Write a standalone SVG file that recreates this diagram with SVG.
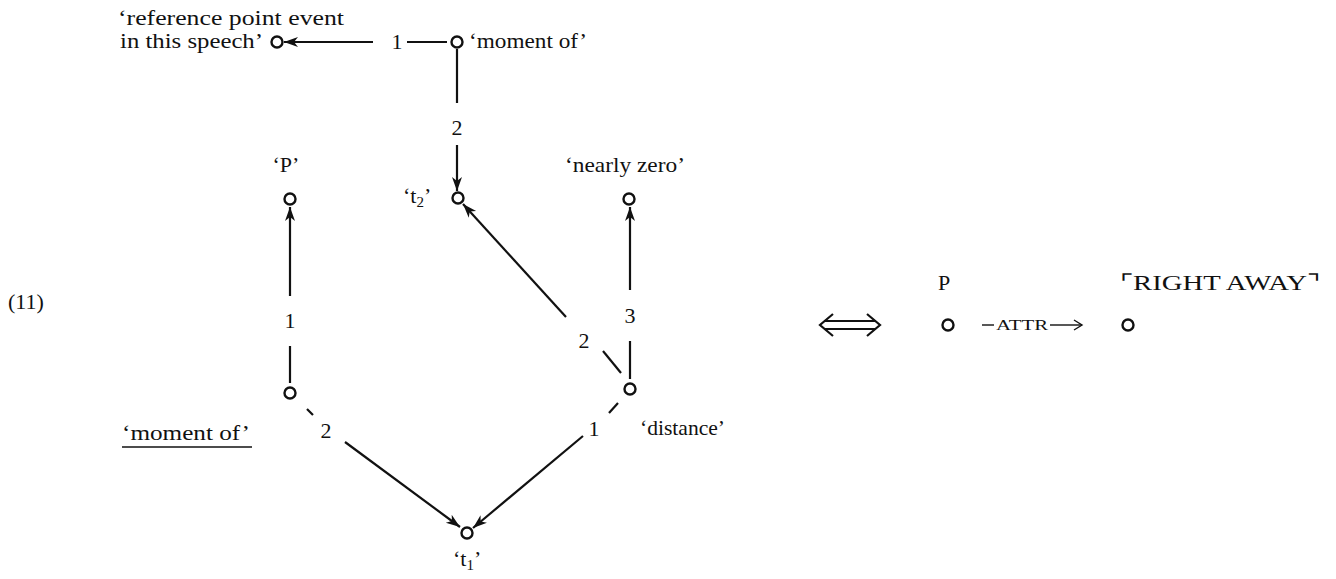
<svg xmlns="http://www.w3.org/2000/svg" width="1336" height="579" viewBox="0 0 1336 579">
<style>
text{font-family:"Liberation Serif","DejaVu Serif",serif;font-size:22px;fill:#111}
.c{text-anchor:middle}
.n{fill:#fff;stroke:#111;stroke-width:2.4}
.e{fill:none;stroke:#111;stroke-width:2.2}
.t{stroke:#111;stroke-width:1.4;fill:none}
.sc{font-size:14px}
.tl{font-size:20px}
</style>
<defs>
<marker id="ah" markerUnits="userSpaceOnUse" markerWidth="16" markerHeight="12" refX="14" refY="6" orient="auto">
<path d="M0,1 L14,6 L0,11 L4,6 Z" fill="#111"/>
</marker>
</defs>
<rect width="1336" height="579" fill="#fff"/>
<g id="connectors">
<line class="e" x1="373" y1="42" x2="284" y2="42" marker-end="url(#ah)"/>
<line class="e" x1="407" y1="42" x2="447" y2="42"/>
<line class="e" x1="457" y1="49" x2="457" y2="103"/>
<line class="e" x1="457" y1="145" x2="457" y2="191" marker-end="url(#ah)"/>
<line class="e" x1="290" y1="296" x2="290" y2="207" marker-end="url(#ah)"/>
<line class="e" x1="290" y1="346" x2="290" y2="383"/>
<line class="e" x1="630" y1="290" x2="630" y2="207" marker-end="url(#ah)"/>
<line class="e" x1="630" y1="341" x2="630" y2="379"/>
<line class="e" x1="566" y1="317" x2="463" y2="204" marker-end="url(#ah)"/>
<line class="e" x1="603" y1="351" x2="621" y2="373"/>
<line class="e" x1="307" y1="409" x2="313" y2="415"/>
<line class="e" x1="345" y1="442" x2="460" y2="527" marker-end="url(#ah)"/>
<line class="e" x1="618" y1="403" x2="609" y2="413"/>
<line class="e" x1="583" y1="436" x2="473" y2="528" marker-end="url(#ah)"/>
</g>
<g id="n-ref"><circle class="n" cx="277" cy="42" r="5.5"/>
<text class="tl" x="118" y="25" textLength="226" lengthAdjust="spacingAndGlyphs">‘reference point event</text>
<text class="tl" x="120" y="48" textLength="143" lengthAdjust="spacingAndGlyphs">in this speech’</text></g>
<g id="n-moment1"><circle class="n" cx="457" cy="42" r="5.5"/>
<text x="469" y="48" textLength="118" lengthAdjust="spacingAndGlyphs">‘moment of’</text></g>
<g id="n-t2"><circle class="n" cx="458" cy="198" r="5.5"/>
<text x="403" y="203">‘t<tspan font-size="15" dy="4">2</tspan><tspan dy="-4">’</tspan></text></g>
<g id="n-P"><circle class="n" cx="290" cy="199" r="5.5"/>
<text class="c" x="286" y="172">‘P’</text></g>
<g id="n-nz"><circle class="n" cx="629" cy="199" r="5.5"/>
<text x="565" y="172" textLength="120" lengthAdjust="spacingAndGlyphs">‘nearly zero’</text></g>
<g id="n-moment2"><circle class="n" cx="290" cy="393" r="5.5"/>
<text x="122" y="440" textLength="128" lengthAdjust="spacingAndGlyphs">‘moment of’</text>
<line x1="122" y1="447" x2="252" y2="447" stroke="#111" stroke-width="1.3"/></g>
<g id="n-dist"><circle class="n" cx="630" cy="389" r="5.5"/>
<text x="640" y="435" textLength="85" lengthAdjust="spacingAndGlyphs">‘distance’</text></g>
<g id="n-t1"><circle class="n" cx="467" cy="533" r="5.5"/>
<text x="453" y="566">‘t<tspan font-size="15" dy="4">1</tspan><tspan dy="-4">’</tspan></text></g>
<g id="labels">
<text class="c" x="397" y="49">1</text>
<text class="c" x="457" y="135">2</text>
<text class="c" x="290" y="328">1</text>
<text class="c" x="630" y="323">3</text>
<text class="c" x="584" y="348">2</text>
<text class="c" x="326" y="438">2</text>
<text class="c" x="594" y="436">1</text>
<text x="8" y="309" font-size="26">(11)</text>
</g>
<g id="equiv">
<path class="e" d="M824,321 H876 M824,329 H876 M833,314 L820,325 L833,336 M867,314 L880,325 L867,336" stroke-width="2.6"/>
</g>
<g id="n-rP"><circle class="n" cx="948" cy="325" r="5.5"/>
<text class="c" x="944" y="290">P</text></g>
<g id="attr">
<line class="t" x1="982" y1="325" x2="994" y2="325"/>
<text class="sc" x="996" y="330" textLength="52" lengthAdjust="spacingAndGlyphs">ATTR</text>
<line class="t" x1="1050" y1="325" x2="1082" y2="325"/>
<path class="t" d="M1074,320 L1082,325 L1074,330"/>
</g>
<g id="n-rRA"><circle class="n" cx="1128" cy="325" r="5.5"/>
<text x="1120" y="290" textLength="200" lengthAdjust="spacingAndGlyphs">⌜RIGHT AWAY⌝</text></g>
</svg>
